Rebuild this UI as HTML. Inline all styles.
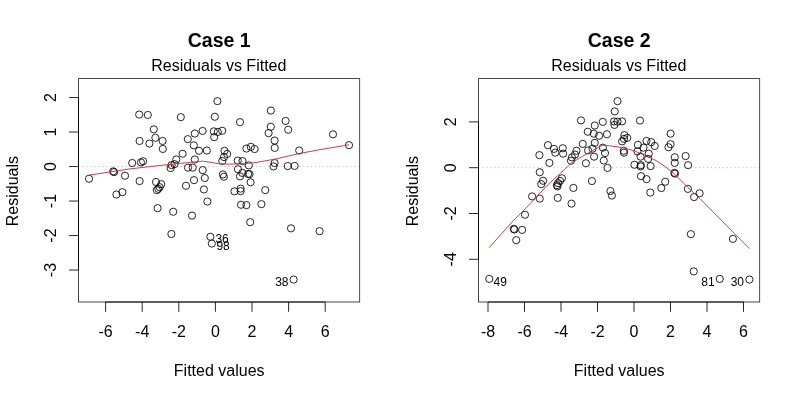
<!DOCTYPE html>
<html><head><meta charset="utf-8"><title>Residuals vs Fitted</title>
<style>
html,body{margin:0;padding:0;background:#fff;}
svg{display:block}
text{font-family:"Liberation Sans",Arial,Helvetica,sans-serif;fill:#000;}
.t{font-size:16px;text-anchor:middle}
.main{font-size:19.5px;font-weight:bold;text-anchor:middle}
.id{font-size:12px}
.ax{fill:none;stroke:#000;stroke-width:.85}
.bx{fill:none;stroke:#1c1c1c;stroke-width:.8}
.pt circle{fill:none;stroke:#000;stroke-width:.85}
.red{fill:none;stroke:#d03444;stroke-width:.95}
.dot{stroke:#bdbdbd;stroke-width:1;stroke-dasharray:1.1 2.84}
</style></head><body>
<svg width="800" height="400" viewBox="0 0 800 400">
<rect width="800" height="400" fill="#fff"/>
<text x="219.2" y="46.5" class="main">Case 1</text>
<text x="218.8" y="70.9" class="t">Residuals vs Fitted</text>
<text x="219.2" y="376" class="t">Fitted values</text>
<text transform="translate(17.5,191.1) rotate(-90)" class="t">Residuals</text>
<line x1="78.5" x2="359.7" y1="166.55" y2="166.55" class="dot"/>
<g class="pt"><circle cx="217.40" cy="101.15" r="3.6"/>
<circle cx="139.20" cy="114.55" r="3.6"/>
<circle cx="147.80" cy="114.95" r="3.6"/>
<circle cx="180.80" cy="117.15" r="3.6"/>
<circle cx="214.80" cy="116.75" r="3.6"/>
<circle cx="153.80" cy="129.35" r="3.6"/>
<circle cx="202.60" cy="130.95" r="3.6"/>
<circle cx="213.80" cy="131.35" r="3.6"/>
<circle cx="217.80" cy="131.95" r="3.6"/>
<circle cx="222.20" cy="130.75" r="3.6"/>
<circle cx="194.80" cy="133.55" r="3.6"/>
<circle cx="214.20" cy="137.15" r="3.6"/>
<circle cx="155.40" cy="137.75" r="3.6"/>
<circle cx="187.80" cy="139.15" r="3.6"/>
<circle cx="139.60" cy="140.95" r="3.6"/>
<circle cx="162.60" cy="140.95" r="3.6"/>
<circle cx="149.40" cy="143.55" r="3.6"/>
<circle cx="193.80" cy="145.35" r="3.6"/>
<circle cx="162.80" cy="148.95" r="3.6"/>
<circle cx="199.00" cy="150.75" r="3.6"/>
<circle cx="206.80" cy="150.55" r="3.6"/>
<circle cx="224.50" cy="150.85" r="3.6"/>
<circle cx="182.60" cy="153.75" r="3.6"/>
<circle cx="227.20" cy="153.95" r="3.6"/>
<circle cx="224.00" cy="157.05" r="3.6"/>
<circle cx="194.80" cy="159.45" r="3.6"/>
<circle cx="176.30" cy="159.45" r="3.6"/>
<circle cx="222.30" cy="160.95" r="3.6"/>
<circle cx="132.20" cy="163.05" r="3.6"/>
<circle cx="141.00" cy="162.45" r="3.6"/>
<circle cx="143.10" cy="161.25" r="3.6"/>
<circle cx="174.50" cy="164.15" r="3.6"/>
<circle cx="171.60" cy="165.15" r="3.6"/>
<circle cx="170.60" cy="168.05" r="3.6"/>
<circle cx="188.00" cy="167.65" r="3.6"/>
<circle cx="192.70" cy="167.65" r="3.6"/>
<circle cx="202.70" cy="170.15" r="3.6"/>
<circle cx="113.20" cy="171.35" r="3.6"/>
<circle cx="114.00" cy="172.15" r="3.6"/>
<circle cx="125.00" cy="175.75" r="3.6"/>
<circle cx="89.00" cy="178.75" r="3.6"/>
<circle cx="204.80" cy="178.05" r="3.6"/>
<circle cx="222.90" cy="174.45" r="3.6"/>
<circle cx="223.90" cy="176.75" r="3.6"/>
<circle cx="194.00" cy="180.15" r="3.6"/>
<circle cx="139.60" cy="181.05" r="3.6"/>
<circle cx="156.00" cy="181.95" r="3.6"/>
<circle cx="161.30" cy="184.15" r="3.6"/>
<circle cx="186.00" cy="185.75" r="3.6"/>
<circle cx="159.70" cy="187.15" r="3.6"/>
<circle cx="158.30" cy="188.85" r="3.6"/>
<circle cx="156.80" cy="190.15" r="3.6"/>
<circle cx="203.90" cy="189.45" r="3.6"/>
<circle cx="234.40" cy="191.35" r="3.6"/>
<circle cx="122.40" cy="192.15" r="3.6"/>
<circle cx="116.40" cy="194.55" r="3.6"/>
<circle cx="207.40" cy="201.55" r="3.6"/>
<circle cx="157.60" cy="208.15" r="3.6"/>
<circle cx="173.20" cy="211.75" r="3.6"/>
<circle cx="192.00" cy="215.55" r="3.6"/>
<circle cx="171.40" cy="233.95" r="3.6"/>
<circle cx="210.40" cy="236.75" r="3.6"/>
<circle cx="211.80" cy="243.55" r="3.6"/>
<circle cx="240.00" cy="122.15" r="3.6"/>
<circle cx="270.80" cy="110.55" r="3.6"/>
<circle cx="285.60" cy="120.95" r="3.6"/>
<circle cx="270.80" cy="126.75" r="3.6"/>
<circle cx="288.20" cy="129.75" r="3.6"/>
<circle cx="268.60" cy="133.15" r="3.6"/>
<circle cx="333.00" cy="134.35" r="3.6"/>
<circle cx="274.60" cy="140.55" r="3.6"/>
<circle cx="349.00" cy="145.15" r="3.6"/>
<circle cx="274.70" cy="147.85" r="3.6"/>
<circle cx="246.40" cy="148.55" r="3.6"/>
<circle cx="250.80" cy="146.85" r="3.6"/>
<circle cx="254.60" cy="149.05" r="3.6"/>
<circle cx="299.20" cy="150.55" r="3.6"/>
<circle cx="237.75" cy="160.55" r="3.6"/>
<circle cx="242.50" cy="161.05" r="3.6"/>
<circle cx="248.75" cy="165.40" r="3.6"/>
<circle cx="274.60" cy="163.05" r="3.6"/>
<circle cx="273.50" cy="166.40" r="3.6"/>
<circle cx="287.75" cy="166.05" r="3.6"/>
<circle cx="294.60" cy="165.90" r="3.6"/>
<circle cx="237.90" cy="169.25" r="3.6"/>
<circle cx="242.25" cy="172.90" r="3.6"/>
<circle cx="248.10" cy="173.90" r="3.6"/>
<circle cx="249.50" cy="174.15" r="3.6"/>
<circle cx="240.00" cy="176.40" r="3.6"/>
<circle cx="250.60" cy="182.25" r="3.6"/>
<circle cx="240.60" cy="188.65" r="3.6"/>
<circle cx="240.60" cy="191.15" r="3.6"/>
<circle cx="265.20" cy="190.15" r="3.6"/>
<circle cx="241.00" cy="204.75" r="3.6"/>
<circle cx="246.40" cy="205.15" r="3.6"/>
<circle cx="261.40" cy="204.15" r="3.6"/>
<circle cx="250.20" cy="222.15" r="3.6"/>
<circle cx="291.00" cy="228.35" r="3.6"/>
<circle cx="319.60" cy="231.15" r="3.6"/>
<circle cx="293.60" cy="279.55" r="3.6"/></g>
<polyline points="89.00,175.15 130.00,168.90 170.00,164.35 190.00,162.45 202.50,161.15 210.00,162.15 218.00,163.65 230.00,164.15 245.00,163.65 255.00,162.65 275.00,159.15 299.00,153.55 320.00,149.65 349.00,144.75" class="red"/>
<rect x="78.5" y="78.6" width="281.2" height="223.4" class="bx"/>
<path class="ax" d="M105.60 302.0H325.20M105.60 302.0V311.8M142.20 302.0V311.8M178.80 302.0V311.8M215.40 302.0V311.8M252.00 302.0V311.8M288.60 302.0V311.8M325.20 302.0V311.8"/>
<text x="105.60" y="336.8" class="t">-6</text>
<text x="142.20" y="336.8" class="t">-4</text>
<text x="178.80" y="336.8" class="t">-2</text>
<text x="215.40" y="336.8" class="t">0</text>
<text x="252.00" y="336.8" class="t">2</text>
<text x="288.60" y="336.8" class="t">4</text>
<text x="325.20" y="336.8" class="t">6</text>
<path class="ax" d="M78.5 270.05V97.55M78.5 270.05H69.0M78.5 235.55H69.0M78.5 201.05H69.0M78.5 166.55H69.0M78.5 132.05H69.0M78.5 97.55H69.0"/>
<text transform="translate(56.3,270.05) rotate(-90)" class="t">-3</text>
<text transform="translate(56.3,235.55) rotate(-90)" class="t">-2</text>
<text transform="translate(56.3,201.05) rotate(-90)" class="t">-1</text>
<text transform="translate(56.3,166.55) rotate(-90)" class="t">0</text>
<text transform="translate(56.3,132.05) rotate(-90)" class="t">1</text>
<text transform="translate(56.3,97.55) rotate(-90)" class="t">2</text>
<text x="215.4" y="243.3" class="id" text-anchor="start">36</text>
<text x="216.4" y="250.4" class="id" text-anchor="start">98</text>
<text x="288.5" y="286.4" class="id" text-anchor="end">38</text>
<text x="619.2" y="46.5" class="main">Case 2</text>
<text x="618.8" y="70.9" class="t">Residuals vs Fitted</text>
<text x="619.2" y="376" class="t">Fitted values</text>
<text transform="translate(417.5,191.1) rotate(-90)" class="t">Residuals</text>
<line x1="478.5" x2="759.7" y1="167.70" y2="167.70" class="dot"/>
<g class="pt"><circle cx="617.50" cy="101.15" r="3.6"/>
<circle cx="614.75" cy="111.40" r="3.6"/>
<circle cx="581.00" cy="120.40" r="3.6"/>
<circle cx="602.75" cy="121.90" r="3.6"/>
<circle cx="614.00" cy="121.40" r="3.6"/>
<circle cx="617.50" cy="121.65" r="3.6"/>
<circle cx="622.10" cy="121.40" r="3.6"/>
<circle cx="614.40" cy="124.90" r="3.6"/>
<circle cx="594.75" cy="125.55" r="3.6"/>
<circle cx="587.75" cy="131.75" r="3.6"/>
<circle cx="593.75" cy="133.65" r="3.6"/>
<circle cx="599.10" cy="135.75" r="3.6"/>
<circle cx="606.90" cy="134.25" r="3.6"/>
<circle cx="624.40" cy="135.15" r="3.6"/>
<circle cx="627.25" cy="137.90" r="3.6"/>
<circle cx="624.00" cy="138.90" r="3.6"/>
<circle cx="622.10" cy="141.40" r="3.6"/>
<circle cx="547.90" cy="145.15" r="3.6"/>
<circle cx="582.75" cy="143.90" r="3.6"/>
<circle cx="594.75" cy="142.90" r="3.6"/>
<circle cx="554.00" cy="148.90" r="3.6"/>
<circle cx="562.75" cy="148.25" r="3.6"/>
<circle cx="555.25" cy="152.65" r="3.6"/>
<circle cx="563.10" cy="153.65" r="3.6"/>
<circle cx="539.40" cy="155.15" r="3.6"/>
<circle cx="576.50" cy="150.75" r="3.6"/>
<circle cx="575.00" cy="154.55" r="3.6"/>
<circle cx="571.90" cy="157.40" r="3.6"/>
<circle cx="571.00" cy="160.75" r="3.6"/>
<circle cx="588.10" cy="150.40" r="3.6"/>
<circle cx="592.50" cy="148.65" r="3.6"/>
<circle cx="602.90" cy="147.65" r="3.6"/>
<circle cx="605.00" cy="153.05" r="3.6"/>
<circle cx="594.10" cy="156.65" r="3.6"/>
<circle cx="603.75" cy="160.55" r="3.6"/>
<circle cx="623.75" cy="150.75" r="3.6"/>
<circle cx="624.00" cy="152.65" r="3.6"/>
<circle cx="549.40" cy="162.90" r="3.6"/>
<circle cx="585.90" cy="163.25" r="3.6"/>
<circle cx="607.50" cy="167.90" r="3.6"/>
<circle cx="634.40" cy="164.75" r="3.6"/>
<circle cx="539.75" cy="172.25" r="3.6"/>
<circle cx="591.90" cy="181.05" r="3.6"/>
<circle cx="543.10" cy="180.75" r="3.6"/>
<circle cx="541.25" cy="184.15" r="3.6"/>
<circle cx="561.90" cy="178.25" r="3.6"/>
<circle cx="560.00" cy="180.95" r="3.6"/>
<circle cx="558.10" cy="183.15" r="3.6"/>
<circle cx="556.90" cy="185.15" r="3.6"/>
<circle cx="557.50" cy="186.35" r="3.6"/>
<circle cx="573.40" cy="187.90" r="3.6"/>
<circle cx="532.10" cy="196.40" r="3.6"/>
<circle cx="539.75" cy="198.65" r="3.6"/>
<circle cx="557.75" cy="197.90" r="3.6"/>
<circle cx="571.50" cy="203.65" r="3.6"/>
<circle cx="525.00" cy="214.75" r="3.6"/>
<circle cx="513.75" cy="228.90" r="3.6"/>
<circle cx="514.40" cy="229.55" r="3.6"/>
<circle cx="522.10" cy="229.90" r="3.6"/>
<circle cx="516.25" cy="240.15" r="3.6"/>
<circle cx="489.25" cy="278.90" r="3.6"/>
<circle cx="640.00" cy="120.55" r="3.6"/>
<circle cx="670.60" cy="133.65" r="3.6"/>
<circle cx="646.50" cy="140.95" r="3.6"/>
<circle cx="651.25" cy="142.15" r="3.6"/>
<circle cx="637.90" cy="144.85" r="3.6"/>
<circle cx="654.70" cy="145.95" r="3.6"/>
<circle cx="670.60" cy="144.15" r="3.6"/>
<circle cx="668.50" cy="147.25" r="3.6"/>
<circle cx="643.50" cy="147.65" r="3.6"/>
<circle cx="637.50" cy="151.40" r="3.6"/>
<circle cx="648.75" cy="153.65" r="3.6"/>
<circle cx="640.60" cy="156.65" r="3.6"/>
<circle cx="648.10" cy="158.90" r="3.6"/>
<circle cx="674.75" cy="157.25" r="3.6"/>
<circle cx="685.60" cy="156.05" r="3.6"/>
<circle cx="674.75" cy="162.90" r="3.6"/>
<circle cx="640.75" cy="165.15" r="3.6"/>
<circle cx="640.60" cy="166.40" r="3.6"/>
<circle cx="650.60" cy="166.15" r="3.6"/>
<circle cx="688.10" cy="165.15" r="3.6"/>
<circle cx="674.40" cy="172.90" r="3.6"/>
<circle cx="675.00" cy="173.65" r="3.6"/>
<circle cx="641.00" cy="176.15" r="3.6"/>
<circle cx="646.50" cy="179.15" r="3.6"/>
<circle cx="665.20" cy="181.75" r="3.6"/>
<circle cx="661.30" cy="188.05" r="3.6"/>
<circle cx="650.30" cy="192.55" r="3.6"/>
<circle cx="687.90" cy="188.90" r="3.6"/>
<circle cx="699.60" cy="193.25" r="3.6"/>
<circle cx="694.10" cy="197.05" r="3.6"/>
<circle cx="690.90" cy="234.15" r="3.6"/>
<circle cx="732.90" cy="238.90" r="3.6"/>
<circle cx="693.75" cy="271.40" r="3.6"/>
<circle cx="719.75" cy="278.90" r="3.6"/>
<circle cx="749.40" cy="279.55" r="3.6"/>
<circle cx="610.40" cy="191.05" r="3.6"/>
<circle cx="611.90" cy="195.55" r="3.6"/></g>
<polyline points="489.10,247.65 513.75,220.15 528.75,205.15 547.50,185.15 563.75,170.15 571.25,163.25 580.00,157.65 590.00,152.15 597.00,147.95 600.00,146.15 604.00,145.25 610.00,145.85 623.00,147.65 635.00,151.15 645.00,155.35 656.25,160.65 666.00,167.15 675.00,174.65 685.00,184.55 700.00,198.65 716.25,215.15 733.00,232.15 749.40,248.65" class="red"/>
<rect x="478.5" y="78.6" width="281.20000000000005" height="223.4" class="bx"/>
<path class="ax" d="M488.00 302.0H743.50M488.00 302.0V311.8M524.50 302.0V311.8M561.00 302.0V311.8M597.50 302.0V311.8M634.00 302.0V311.8M670.50 302.0V311.8M707.00 302.0V311.8M743.50 302.0V311.8"/>
<text x="488.00" y="336.8" class="t">-8</text>
<text x="524.50" y="336.8" class="t">-6</text>
<text x="561.00" y="336.8" class="t">-4</text>
<text x="597.50" y="336.8" class="t">-2</text>
<text x="634.00" y="336.8" class="t">0</text>
<text x="670.50" y="336.8" class="t">2</text>
<text x="707.00" y="336.8" class="t">4</text>
<text x="743.50" y="336.8" class="t">6</text>
<path class="ax" d="M478.5 259.30V121.90M478.5 259.30H469.0M478.5 213.50H469.0M478.5 167.70H469.0M478.5 121.90H469.0"/>
<text transform="translate(456.3,259.30) rotate(-90)" class="t">-4</text>
<text transform="translate(456.3,213.50) rotate(-90)" class="t">-2</text>
<text transform="translate(456.3,167.70) rotate(-90)" class="t">0</text>
<text transform="translate(456.3,121.90) rotate(-90)" class="t">2</text>
<text x="493.6" y="285.6" class="id" text-anchor="start">49</text>
<text x="714.7" y="285.8" class="id" text-anchor="end">81</text>
<text x="744.0" y="286.3" class="id" text-anchor="end">30</text>
</svg>
</body></html>
